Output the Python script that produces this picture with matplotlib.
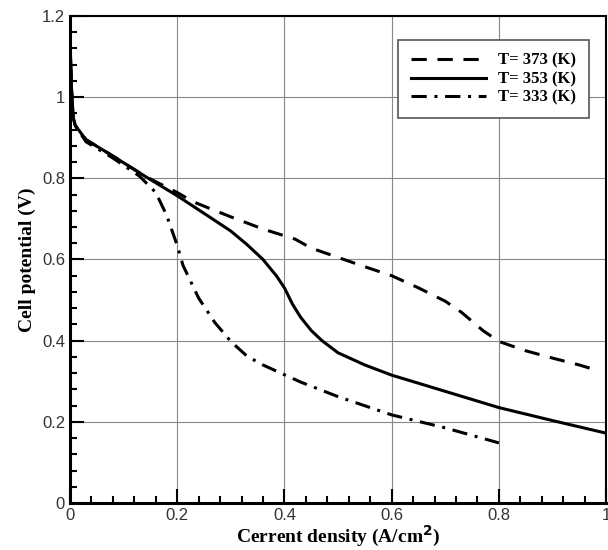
import numpy as np
import matplotlib.pyplot as plt
from matplotlib.ticker import MultipleLocator

# Curvas de polarizacion
x_373 = [0.0, 0.003, 0.006, 0.01, 0.03, 0.08, 0.14, 0.2, 0.23, 0.3, 0.36, 0.42, 0.45, 0.5,
         0.55, 0.6, 0.65, 0.7, 0.73, 0.77, 0.8, 0.85, 0.9, 0.95, 0.98]
y_373 = [1.15, 1.02, 0.95, 0.93, 0.895, 0.855, 0.805, 0.765, 0.742, 0.705, 0.675, 0.65, 0.628, 0.605,
         0.582, 0.56, 0.53, 0.497, 0.47, 0.425, 0.398, 0.375, 0.357, 0.34, 0.328]

x_353 = [0.0, 0.003, 0.006, 0.01, 0.03, 0.08, 0.14, 0.2, 0.26, 0.3, 0.33, 0.36, 0.386, 0.4,
         0.415, 0.43, 0.45, 0.47, 0.5, 0.55, 0.6, 0.7, 0.8, 0.9, 1.0]
y_353 = [1.15, 1.02, 0.95, 0.93, 0.895, 0.855, 0.805, 0.757, 0.705, 0.67, 0.637, 0.6, 0.558, 0.53,
         0.49, 0.458, 0.425, 0.4, 0.37, 0.34, 0.315, 0.275, 0.235, 0.203, 0.172]

x_333 = [0.0, 0.003, 0.006, 0.01, 0.03, 0.08, 0.13, 0.16, 0.18, 0.2, 0.211, 0.24, 0.27, 0.3,
         0.33, 0.36, 0.4, 0.43, 0.5, 0.6, 0.7, 0.8]
y_333 = [1.15, 1.02, 0.95, 0.93, 0.89, 0.85, 0.805, 0.765, 0.71, 0.635, 0.585, 0.505, 0.445, 0.398,
         0.362, 0.34, 0.316, 0.298, 0.262, 0.217, 0.185, 0.148]

etiquetas = ['T= 373 (K)', 'T= 353 (K)', 'T= 333 (K)']
x_ticks = [0, 0.2, 0.4, 0.6, 0.8, 1.0]
x_tick_labels = ['0', '0.2', '0.4', '0.6', '0.8', '1']
y_ticks = [0, 0.2, 0.4, 0.6, 0.8, 1.0, 1.2]
y_tick_labels = ['0', '0.2', '0.4', '0.6', '0.8', '1', '1.2']

fig = plt.figure(figsize=(6.08, 5.5), dpi=100)
ax = fig.add_axes([0.115, 0.0855, 0.882, 0.8855])

ax.plot(x_373, y_373, color='black', lw=2.2, linestyle=(0, (5, 3.5)), label=etiquetas[0])
ax.plot(x_353, y_353, color='black', lw=2.2, linestyle='-', label=etiquetas[1])
ax.plot(x_333, y_333, color='black', lw=2.2, linestyle=(0, (5, 2.5, 1, 2.5)), label=etiquetas[2])

ax.set_xlim(0, 1)
ax.set_ylim(0, 1.2)
ax.set_xticks(x_ticks, x_tick_labels)
ax.set_yticks(y_ticks, y_tick_labels)
ax.xaxis.set_minor_locator(MultipleLocator(0.04))
ax.yaxis.set_minor_locator(MultipleLocator(0.04))
ax.tick_params(which='both', direction='in', top=False, right=False, labelsize=12,
               width=1.5, colors='black')
ax.tick_params(which='major', length=10)
ax.tick_params(which='minor', length=5)
for lab in ax.get_xticklabels() + ax.get_yticklabels():
    lab.set_family('Liberation Sans')
    lab.set_color('#333333')

ax.grid(True, which='major', color='#888888', lw=0.8)
for s in ['left', 'bottom']:
    ax.spines[s].set_linewidth(2.2)
for s in ['top', 'right']:
    ax.spines[s].set_linewidth(1.5)

plt.rcParams['mathtext.fontset'] = 'custom'
plt.rcParams['mathtext.bf'] = 'Liberation Serif:bold'
plt.rcParams['mathtext.rm'] = 'Liberation Serif:bold'
ax.set_xlabel('Cerrent density (A/cm$^{\\mathbf{2}}$)', family='Liberation Serif',
              fontweight='bold', fontsize=14, labelpad=1)
ax.set_ylabel('Cell potential (V)', family='Liberation Serif',
              fontweight='bold', fontsize=14, labelpad=4)

leg = ax.legend(loc='upper right', bbox_to_anchor=(0.983, 0.967), handlelength=4.5,
                prop={'family': 'Liberation Serif', 'weight': 'bold', 'size': 12},
                fancybox=False, edgecolor='#555555', framealpha=1, borderpad=0.75,
                labelspacing=0.15, handletextpad=0.75)
leg.get_frame().set_linewidth(1.2)

fig.savefig('out.png', dpi=100)
